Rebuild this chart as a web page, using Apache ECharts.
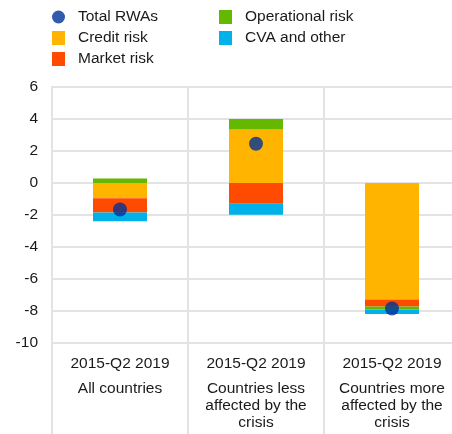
<!DOCTYPE html>
<html>
<head>
<meta charset="utf-8">
<script src="https://cdn.jsdelivr.net/npm/echarts@6/dist/echarts.min.js"></script>
<style>
  html, body { margin: 0; padding: 0; background: #ffffff; }
  #chart { width: 452px; height: 434px; }
</style>
</head>
<body>
<div id="chart"></div>
<script>
// Contributions to the change in risk-weighted assets (percentage points)
const period = '2015-Q2 2019';
const categories = ['All countries', 'Countries less\naffected by the\ncrisis', 'Countries more\naffected by the\ncrisis'];

const creditRisk = [-0.95, 3.34, -7.28];
const marketRisk = [-0.9, -1.3, -0.44];
const operationalRisk = [0.28, 0.66, -0.19];
const cvaOther = [-0.54, -0.69, -0.27];
const totalRWAs = [-1.66, 2.45, -7.84];

const yTicks = { min: -10, max: 6, step: 2 };

const FONT = "'Liberation Sans', Arial, sans-serif";
const TEXT = '#1a1a1a';
const GRID = '#e3e3e3';

const chart = echarts.init(document.getElementById('chart'), null, { renderer: 'canvas' });

function barSeries(name, data, color) {
  return {
    name: name,
    type: 'bar',
    stack: 'rwa',
    barWidth: 54,
    data: data,
    itemStyle: { color: color },
    emphasis: { disabled: true }
  };
}

const legendText = {
  fontFamily: FONT,
  fontSize: 15.5,
  color: TEXT,
  lineHeight: 16,
  padding: [0, 0, 0, 8]
};

function legendBlock(items, left) {
  return {
    data: items,
    orient: 'vertical',
    left: left,
    top: 9,
    padding: 0,
    itemWidth: 13,
    itemHeight: 14,
    itemGap: 5,
    selectedMode: false,
    textStyle: legendText
  };
}

chart.setOption({
  animation: false,
  backgroundColor: '#ffffff',
  textStyle: { fontFamily: FONT },
  legend: [
    legendBlock([
      { name: 'Total RWAs', icon: 'circle' },
      { name: 'Credit risk', icon: 'rect' },
      { name: 'Market risk', icon: 'rect' }
    ], 52),
    legendBlock([
      { name: 'Operational risk', icon: 'rect' },
      { name: 'CVA and other', icon: 'rect' }
    ], 219)
  ],
  // the plot runs a little past the right edge of the canvas
  grid: {
    left: 52, width: 408, top: 87, height: 256,
    containLabel: false,
    outerBoundsMode: 'none'
  },
  xAxis: {
    type: 'category',
    data: categories,
    boundaryGap: true,
    axisLine: { show: false, onZero: false },
    axisTick: {
      show: true,
      interval: 0,
      alignWithLabel: false,
      length: 91,
      lineStyle: { color: GRID, width: 2 }
    },
    splitLine: { show: true, interval: 0, lineStyle: { color: GRID, width: 2 } },
    axisLabel: {
      interval: 0,
      margin: 5,
      formatter: function (value) {
        const lines = value.split('\n').map(function (l) { return '{n|' + l + '}'; });
        return '{d|' + period + '}\n' + lines.join('\n');
      },
      rich: {
        d: { fontFamily: FONT, fontSize: 15.5, color: TEXT, lineHeight: 32, align: 'center' },
        n: { fontFamily: FONT, fontSize: 15.5, color: TEXT, lineHeight: 17, align: 'center' }
      }
    }
  },
  yAxis: {
    type: 'value',
    min: yTicks.min,
    max: yTicks.max,
    interval: yTicks.step,
    axisLine: { show: true, lineStyle: { color: GRID, width: 2 } },
    axisTick: { show: false },
    splitLine: { show: true, lineStyle: { color: GRID, width: 2 } },
    axisLabel: { fontFamily: FONT, fontSize: 15.5, color: TEXT, margin: 14 }
  },
  series: [
    barSeries('Credit risk', creditRisk, '#FFB400'),
    barSeries('Market risk', marketRisk, '#FF4B00'),
    barSeries('Operational risk', operationalRisk, '#65B800'),
    barSeries('CVA and other', cvaOther, '#00B1EA'),
    {
      name: 'Total RWAs',
      type: 'scatter',
      data: totalRWAs,
      symbol: 'circle',
      symbolSize: 14,
      z: 5,
      itemStyle: { color: '#003299' },
      emphasis: { disabled: true }
    }
  ]
});
</script>
</body>
</html>
